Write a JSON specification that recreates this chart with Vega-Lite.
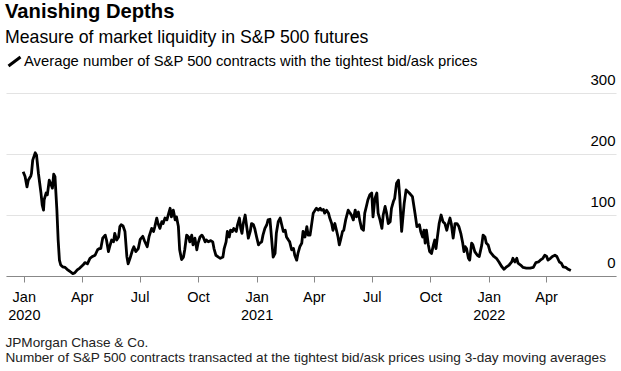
{
  "$schema": "https://vega.github.io/schema/vega-lite/v6.json",
  "width": 610,
  "height": 183,
  "autosize": {"type": "none"},
  "padding": {"left": 6, "top": 93, "right": 5, "bottom": 95},
  "background": "white",
  "config": {"font": "Liberation Sans", "view": {"stroke": null}},
  "title": {
    "text": "Vanishing Depths",
    "subtitle": "Measure of market liquidity in S&P 500 futures",
    "anchor": "start",
    "frame": "group",
    "fontSize": 20.2,
    "fontWeight": "bold",
    "color": "#000",
    "subtitleFontSize": 17.7,
    "subtitleColor": "#000",
    "subtitlePadding": 7,
    "offset": 7,
    "dx": -1
  },
  "data": {
    "values": [
      {"date": "2019-12-31", "value": 171},
      {"date": "2020-01-03", "value": 163},
      {"date": "2020-01-06", "value": 146},
      {"date": "2020-01-08", "value": 157},
      {"date": "2020-01-12", "value": 164},
      {"date": "2020-01-13", "value": 168},
      {"date": "2020-01-15", "value": 190},
      {"date": "2020-01-19", "value": 202},
      {"date": "2020-01-21", "value": 198},
      {"date": "2020-01-24", "value": 168},
      {"date": "2020-01-28", "value": 136},
      {"date": "2020-01-30", "value": 116},
      {"date": "2020-02-01", "value": 108},
      {"date": "2020-02-02", "value": 125},
      {"date": "2020-02-05", "value": 136},
      {"date": "2020-02-07", "value": 133},
      {"date": "2020-02-10", "value": 157},
      {"date": "2020-02-12", "value": 152},
      {"date": "2020-02-15", "value": 144},
      {"date": "2020-02-17", "value": 167},
      {"date": "2020-02-19", "value": 163},
      {"date": "2020-02-22", "value": 108},
      {"date": "2020-02-24", "value": 59},
      {"date": "2020-02-26", "value": 26},
      {"date": "2020-02-28", "value": 18},
      {"date": "2020-03-02", "value": 15},
      {"date": "2020-03-06", "value": 14},
      {"date": "2020-03-09", "value": 11},
      {"date": "2020-03-14", "value": 7},
      {"date": "2020-03-18", "value": 4},
      {"date": "2020-03-21", "value": 5},
      {"date": "2020-03-25", "value": 10},
      {"date": "2020-03-29", "value": 13},
      {"date": "2020-04-03", "value": 18},
      {"date": "2020-04-06", "value": 22},
      {"date": "2020-04-10", "value": 20},
      {"date": "2020-04-14", "value": 29},
      {"date": "2020-04-18", "value": 32},
      {"date": "2020-04-22", "value": 34},
      {"date": "2020-04-26", "value": 43},
      {"date": "2020-04-29", "value": 45},
      {"date": "2020-05-01", "value": 45},
      {"date": "2020-05-04", "value": 62},
      {"date": "2020-05-08", "value": 67},
      {"date": "2020-05-10", "value": 59},
      {"date": "2020-05-13", "value": 40},
      {"date": "2020-05-15", "value": 48},
      {"date": "2020-05-18", "value": 59},
      {"date": "2020-05-21", "value": 56},
      {"date": "2020-05-23", "value": 70},
      {"date": "2020-05-26", "value": 59},
      {"date": "2020-05-29", "value": 64},
      {"date": "2020-05-31", "value": 81},
      {"date": "2020-06-02", "value": 84},
      {"date": "2020-06-05", "value": 82},
      {"date": "2020-06-08", "value": 73},
      {"date": "2020-06-11", "value": 32},
      {"date": "2020-06-13", "value": 20},
      {"date": "2020-06-16", "value": 29},
      {"date": "2020-06-20", "value": 43},
      {"date": "2020-06-22", "value": 48},
      {"date": "2020-06-25", "value": 40},
      {"date": "2020-06-29", "value": 45},
      {"date": "2020-07-02", "value": 60},
      {"date": "2020-07-06", "value": 65},
      {"date": "2020-07-09", "value": 57},
      {"date": "2020-07-13", "value": 48},
      {"date": "2020-07-16", "value": 65},
      {"date": "2020-07-20", "value": 78},
      {"date": "2020-07-23", "value": 73},
      {"date": "2020-07-25", "value": 81},
      {"date": "2020-07-28", "value": 95},
      {"date": "2020-07-30", "value": 86},
      {"date": "2020-08-02", "value": 78},
      {"date": "2020-08-05", "value": 89},
      {"date": "2020-08-07", "value": 86},
      {"date": "2020-08-10", "value": 95},
      {"date": "2020-08-13", "value": 92},
      {"date": "2020-08-15", "value": 100},
      {"date": "2020-08-18", "value": 111},
      {"date": "2020-08-20", "value": 97},
      {"date": "2020-08-23", "value": 108},
      {"date": "2020-08-26", "value": 92},
      {"date": "2020-08-28", "value": 97},
      {"date": "2020-08-31", "value": 81},
      {"date": "2020-09-02", "value": 43},
      {"date": "2020-09-05", "value": 27},
      {"date": "2020-09-08", "value": 31},
      {"date": "2020-09-10", "value": 43},
      {"date": "2020-09-13", "value": 67},
      {"date": "2020-09-16", "value": 64},
      {"date": "2020-09-18", "value": 56},
      {"date": "2020-09-21", "value": 67},
      {"date": "2020-09-23", "value": 51},
      {"date": "2020-09-26", "value": 62},
      {"date": "2020-09-29", "value": 43},
      {"date": "2020-10-01", "value": 54},
      {"date": "2020-10-04", "value": 64},
      {"date": "2020-10-07", "value": 67},
      {"date": "2020-10-09", "value": 64},
      {"date": "2020-10-12", "value": 56},
      {"date": "2020-10-14", "value": 59},
      {"date": "2020-10-17", "value": 56},
      {"date": "2020-10-21", "value": 58},
      {"date": "2020-10-24", "value": 56},
      {"date": "2020-10-26", "value": 45},
      {"date": "2020-10-29", "value": 34},
      {"date": "2020-11-02", "value": 31},
      {"date": "2020-11-05", "value": 29},
      {"date": "2020-11-09", "value": 31},
      {"date": "2020-11-11", "value": 45},
      {"date": "2020-11-14", "value": 56},
      {"date": "2020-11-16", "value": 73},
      {"date": "2020-11-19", "value": 64},
      {"date": "2020-11-21", "value": 75},
      {"date": "2020-11-24", "value": 73},
      {"date": "2020-11-26", "value": 78},
      {"date": "2020-11-30", "value": 73},
      {"date": "2020-12-02", "value": 84},
      {"date": "2020-12-05", "value": 95},
      {"date": "2020-12-07", "value": 78},
      {"date": "2020-12-09", "value": 70},
      {"date": "2020-12-11", "value": 86},
      {"date": "2020-12-14", "value": 100},
      {"date": "2020-12-16", "value": 84},
      {"date": "2020-12-19", "value": 62},
      {"date": "2020-12-22", "value": 73},
      {"date": "2020-12-24", "value": 86},
      {"date": "2020-12-27", "value": 84},
      {"date": "2020-12-29", "value": 78},
      {"date": "2021-01-01", "value": 64},
      {"date": "2021-01-04", "value": 51},
      {"date": "2021-01-06", "value": 54},
      {"date": "2021-01-09", "value": 56},
      {"date": "2021-01-11", "value": 67},
      {"date": "2021-01-14", "value": 78},
      {"date": "2021-01-17", "value": 84},
      {"date": "2021-01-19", "value": 92},
      {"date": "2021-01-22", "value": 93},
      {"date": "2021-01-27", "value": 31},
      {"date": "2021-01-30", "value": 37},
      {"date": "2021-02-01", "value": 70},
      {"date": "2021-02-04", "value": 89},
      {"date": "2021-02-07", "value": 95},
      {"date": "2021-02-09", "value": 86},
      {"date": "2021-02-12", "value": 73},
      {"date": "2021-02-15", "value": 75},
      {"date": "2021-02-17", "value": 64},
      {"date": "2021-02-20", "value": 59},
      {"date": "2021-02-22", "value": 56},
      {"date": "2021-02-25", "value": 43},
      {"date": "2021-02-28", "value": 45},
      {"date": "2021-03-02", "value": 34},
      {"date": "2021-03-05", "value": 26},
      {"date": "2021-03-07", "value": 37},
      {"date": "2021-03-10", "value": 48},
      {"date": "2021-03-13", "value": 54},
      {"date": "2021-03-15", "value": 73},
      {"date": "2021-03-18", "value": 64},
      {"date": "2021-03-21", "value": 81},
      {"date": "2021-03-23", "value": 67},
      {"date": "2021-03-26", "value": 67},
      {"date": "2021-03-28", "value": 81},
      {"date": "2021-03-31", "value": 103},
      {"date": "2021-04-03", "value": 108},
      {"date": "2021-04-05", "value": 111},
      {"date": "2021-04-08", "value": 108},
      {"date": "2021-04-11", "value": 111},
      {"date": "2021-04-13", "value": 108},
      {"date": "2021-04-16", "value": 109},
      {"date": "2021-04-18", "value": 103},
      {"date": "2021-04-21", "value": 108},
      {"date": "2021-04-24", "value": 103},
      {"date": "2021-04-26", "value": 95},
      {"date": "2021-04-29", "value": 86},
      {"date": "2021-05-01", "value": 75},
      {"date": "2021-05-04", "value": 86},
      {"date": "2021-05-07", "value": 73},
      {"date": "2021-05-09", "value": 64},
      {"date": "2021-05-11", "value": 51},
      {"date": "2021-05-13", "value": 59},
      {"date": "2021-05-16", "value": 73},
      {"date": "2021-05-18", "value": 75},
      {"date": "2021-05-21", "value": 92},
      {"date": "2021-05-25", "value": 108},
      {"date": "2021-05-28", "value": 103},
      {"date": "2021-05-30", "value": 100},
      {"date": "2021-06-02", "value": 92},
      {"date": "2021-06-05", "value": 108},
      {"date": "2021-06-07", "value": 97},
      {"date": "2021-06-10", "value": 105},
      {"date": "2021-06-12", "value": 92},
      {"date": "2021-06-15", "value": 78},
      {"date": "2021-06-18", "value": 75},
      {"date": "2021-06-20", "value": 103},
      {"date": "2021-06-23", "value": 116},
      {"date": "2021-06-25", "value": 125},
      {"date": "2021-06-28", "value": 133},
      {"date": "2021-07-01", "value": 136},
      {"date": "2021-07-03", "value": 97},
      {"date": "2021-07-06", "value": 127},
      {"date": "2021-07-09", "value": 136},
      {"date": "2021-07-11", "value": 103},
      {"date": "2021-07-14", "value": 92},
      {"date": "2021-07-17", "value": 78},
      {"date": "2021-07-19", "value": 100},
      {"date": "2021-07-22", "value": 114},
      {"date": "2021-07-24", "value": 105},
      {"date": "2021-07-27", "value": 86},
      {"date": "2021-07-30", "value": 89},
      {"date": "2021-08-01", "value": 111},
      {"date": "2021-08-04", "value": 122},
      {"date": "2021-08-06", "value": 127},
      {"date": "2021-08-09", "value": 152},
      {"date": "2021-08-12", "value": 157},
      {"date": "2021-08-14", "value": 130},
      {"date": "2021-08-17", "value": 73},
      {"date": "2021-08-21", "value": 119},
      {"date": "2021-08-24", "value": 141},
      {"date": "2021-08-29", "value": 136},
      {"date": "2021-09-03", "value": 130},
      {"date": "2021-09-07", "value": 103},
      {"date": "2021-09-10", "value": 81},
      {"date": "2021-09-14", "value": 84},
      {"date": "2021-09-16", "value": 73},
      {"date": "2021-09-19", "value": 64},
      {"date": "2021-09-21", "value": 75},
      {"date": "2021-09-23", "value": 54},
      {"date": "2021-09-25", "value": 75},
      {"date": "2021-09-28", "value": 51},
      {"date": "2021-09-30", "value": 40},
      {"date": "2021-10-03", "value": 37},
      {"date": "2021-10-06", "value": 51},
      {"date": "2021-10-08", "value": 59},
      {"date": "2021-10-10", "value": 45},
      {"date": "2021-10-12", "value": 62},
      {"date": "2021-10-15", "value": 86},
      {"date": "2021-10-18", "value": 100},
      {"date": "2021-10-21", "value": 89},
      {"date": "2021-10-24", "value": 86},
      {"date": "2021-10-27", "value": 75},
      {"date": "2021-10-29", "value": 84},
      {"date": "2021-11-01", "value": 95},
      {"date": "2021-11-03", "value": 86},
      {"date": "2021-11-06", "value": 62},
      {"date": "2021-11-09", "value": 86},
      {"date": "2021-11-12", "value": 86},
      {"date": "2021-11-15", "value": 81},
      {"date": "2021-11-18", "value": 70},
      {"date": "2021-11-21", "value": 54},
      {"date": "2021-11-23", "value": 40},
      {"date": "2021-11-25", "value": 48},
      {"date": "2021-11-27", "value": 45},
      {"date": "2021-11-30", "value": 29},
      {"date": "2021-12-02", "value": 26},
      {"date": "2021-12-05", "value": 54},
      {"date": "2021-12-07", "value": 51},
      {"date": "2021-12-10", "value": 40},
      {"date": "2021-12-14", "value": 34},
      {"date": "2021-12-17", "value": 32},
      {"date": "2021-12-21", "value": 51},
      {"date": "2021-12-23", "value": 67},
      {"date": "2021-12-26", "value": 64},
      {"date": "2021-12-28", "value": 54},
      {"date": "2021-12-31", "value": 51},
      {"date": "2022-01-03", "value": 40},
      {"date": "2022-01-05", "value": 37},
      {"date": "2022-01-09", "value": 32},
      {"date": "2022-01-13", "value": 29},
      {"date": "2022-01-17", "value": 23},
      {"date": "2022-01-21", "value": 16},
      {"date": "2022-01-25", "value": 11},
      {"date": "2022-01-29", "value": 15},
      {"date": "2022-02-02", "value": 18},
      {"date": "2022-02-06", "value": 23},
      {"date": "2022-02-08", "value": 29},
      {"date": "2022-02-11", "value": 23},
      {"date": "2022-02-14", "value": 29},
      {"date": "2022-02-16", "value": 21},
      {"date": "2022-02-20", "value": 18},
      {"date": "2022-02-24", "value": 14},
      {"date": "2022-03-01", "value": 13},
      {"date": "2022-03-07", "value": 13},
      {"date": "2022-03-12", "value": 14},
      {"date": "2022-03-16", "value": 22},
      {"date": "2022-03-20", "value": 23},
      {"date": "2022-03-23", "value": 26},
      {"date": "2022-03-27", "value": 29},
      {"date": "2022-03-30", "value": 34},
      {"date": "2022-04-02", "value": 32},
      {"date": "2022-04-04", "value": 26},
      {"date": "2022-04-08", "value": 29},
      {"date": "2022-04-11", "value": 32},
      {"date": "2022-04-15", "value": 34},
      {"date": "2022-04-18", "value": 32},
      {"date": "2022-04-22", "value": 23},
      {"date": "2022-04-25", "value": 21},
      {"date": "2022-04-28", "value": 15},
      {"date": "2022-05-02", "value": 14},
      {"date": "2022-05-06", "value": 11},
      {"date": "2022-05-10", "value": 9}
    ]
  },
  "mark": {"type": "line", "strokeWidth": 2.8, "strokeJoin": "round"},
  "encoding": {
    "x": {
      "field": "date",
      "type": "temporal",
      "scale": {
        "type": "utc",
        "domain": [
          {"year": 2019, "month": 12, "date": 4, "utc": true},
          {"year": 2022, "month": 7, "date": 20, "utc": true}
        ]
      },
      "axis": {
        "values": [
          {"year": 2020, "month": 1, "date": 1, "utc": true},
          {"year": 2020, "month": 4, "date": 1, "utc": true},
          {"year": 2020, "month": 7, "date": 1, "utc": true},
          {"year": 2020, "month": 10, "date": 1, "utc": true},
          {"year": 2021, "month": 1, "date": 1, "utc": true},
          {"year": 2021, "month": 4, "date": 1, "utc": true},
          {"year": 2021, "month": 7, "date": 1, "utc": true},
          {"year": 2021, "month": 10, "date": 1, "utc": true},
          {"year": 2022, "month": 1, "date": 1, "utc": true},
          {"year": 2022, "month": 4, "date": 1, "utc": true}
        ],
        "labelExpr": "utcmonth(datum.value) == 0 ? [utcFormat(datum.value, '%b'), utcFormat(datum.value, '%Y')] : utcFormat(datum.value, '%b')",
        "labelFontSize": 14.5,
        "labelColor": "#000",
        "labelBaseline": "top",
        "labelPadding": 8,
        "labelLineHeight": 18,
        "labelFlush": false,
        "labelOverlap": false,
        "tickSize": 6,
        "tickColor": "#888",
        "domainColor": "#888",
        "grid": false,
        "title": ["JPMorgan Chase & Co.", "Number of S&P 500 contracts transacted at the tightest bid/ask prices using 3-day moving averages"],
        "titleX": -1,
        "titleY": 70.7,
        "titleAlign": "left",
        "titleAnchor": "start",
        "titleBaseline": "alphabetic",
        "titleFontSize": 13.6,
        "titleFontWeight": "normal",
        "titleColor": "#222",
        "titleLineHeight": 15
      }
    },
    "y": {
      "field": "value",
      "type": "quantitative",
      "scale": {"domain": [0, 300]},
      "axis": {
        "orient": "right",
        "values": [0, 100, 200, 300],
        "domain": false,
        "ticks": false,
        "grid": true,
        "gridColor": "#e3e3e3",
        "gridWidth": 1,
        "labelAlign": "right",
        "labelBaseline": "alphabetic",
        "labelOffset": -9,
        "labelPadding": -1,
        "labelFontSize": 15,
        "labelColor": "#000",
        "title": null
      }
    },
    "color": {
      "datum": "Average number of S&P 500 contracts with the tightest bid/ask prices",
      "scale": {"range": ["#000"]},
      "legend": {
        "title": null,
        "orient": "none",
        "legendX": 1,
        "legendY": -39,
        "symbolType": "M-1,0.75L1,-0.75",
        "symbolSize": 144,
        "symbolStrokeWidth": 3,
        "symbolStrokeColor": "#000",
        "labelFontSize": 14.8,
        "labelColor": "#000",
        "labelOffset": 2,
        "labelLimit": 0
      }
    }
  }
}
